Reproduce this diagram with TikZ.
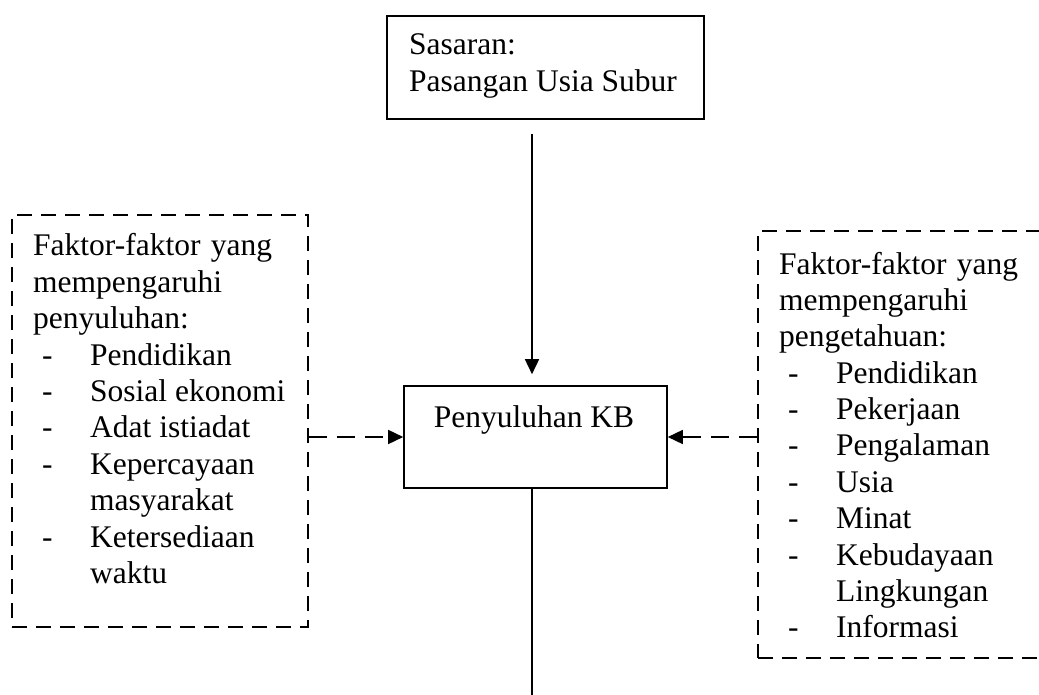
\documentclass[tikz,border=0pt]{standalone}
\usepackage{fontspec}
\setmainfont{Liberation Serif}
\usetikzlibrary{arrows.meta}
\newcommand\myitem[1]{\makebox[57pt][l]{\hspace{9pt}-}#1}
\newcommand\mycont[1]{\hspace{57pt}#1}
\newcommand\myfirst{\makebox[239pt][l]{Faktor-faktor\hfill yang}}
\begin{document}
\begin{tikzpicture}[x=1pt,y=-1pt,
  every node/.style={font=\fontsize{31.5}{36.4}\selectfont},
  solidbox/.style={draw,line width=1.6pt,inner sep=0pt},
  dashbox/.style={draw,line width=1.6pt,dash pattern=on 15pt off 9pt,inner sep=0pt},
  txt/.style={inner sep=0pt,anchor=base west},
  arr/.style={line width=1.6pt,-{Triangle[length=15pt,width=14pt]}},
  darr/.style={arr,dash pattern=on 18pt off 10pt}]
\useasboundingbox (0,0) rectangle (1039,695);
% boxes
\node[solidbox,minimum width=317pt,minimum height=103pt] (top) at (545.5,67.5) {};
\node[solidbox,minimum width=263pt,minimum height=102pt] (mid) at (535.5,437) {};
\node[dashbox,minimum width=296pt,minimum height=412pt] (left) at (160,421) {};
\node[dashbox,minimum width=300pt,minimum height=427pt] (right) at (908,444.5) {};
% texts
\node[txt] (toptext) at (409,55) {\begin{tabular}[t]{@{}l@{}}Sasaran:\\Pasangan Usia Subur\end{tabular}};
\node[inner sep=0pt,anchor=base] (midtext) at (534,427) {Penyuluhan KB};
\node[txt] (lefttext) at (33,256) {\begin{tabular}[t]{@{}l@{}}
\myfirst\\
mempengaruhi\\
penyuluhan:\\
\myitem{Pendidikan}\\
\myitem{Sosial ekonomi}\\
\myitem{Adat istiadat}\\
\myitem{Kepercayaan}\\
\mycont{masyarakat}\\
\myitem{Ketersediaan}\\
\mycont{waktu}
\end{tabular}};
\node[txt] (righttext) at (779,274) {\begin{tabular}[t]{@{}l@{}}
\myfirst\\
mempengaruhi\\
pengetahuan:\\
\myitem{Pendidikan}\\
\myitem{Pekerjaan}\\
\myitem{Pengalaman}\\
\myitem{Usia}\\
\myitem{Minat}\\
\myitem{Kebudayaan}\\
\mycont{Lingkungan}\\
\myitem{Informasi}
\end{tabular}};
% connectors
\coordinate (bot) at (532,695);
\draw[arr] ([xshift=-13.5pt,yshift=-14pt]top.south) -- ([xshift=-3.5pt,yshift=11pt]mid.north);
\draw[darr] (left.east |- mid.west) -- (mid.west);
\draw[darr] (right.west |- mid.east) -- (mid.east);
\draw[line width=1.6pt] ([xshift=-3.5pt]mid.south) -- (bot);
\end{tikzpicture}
\end{document}
